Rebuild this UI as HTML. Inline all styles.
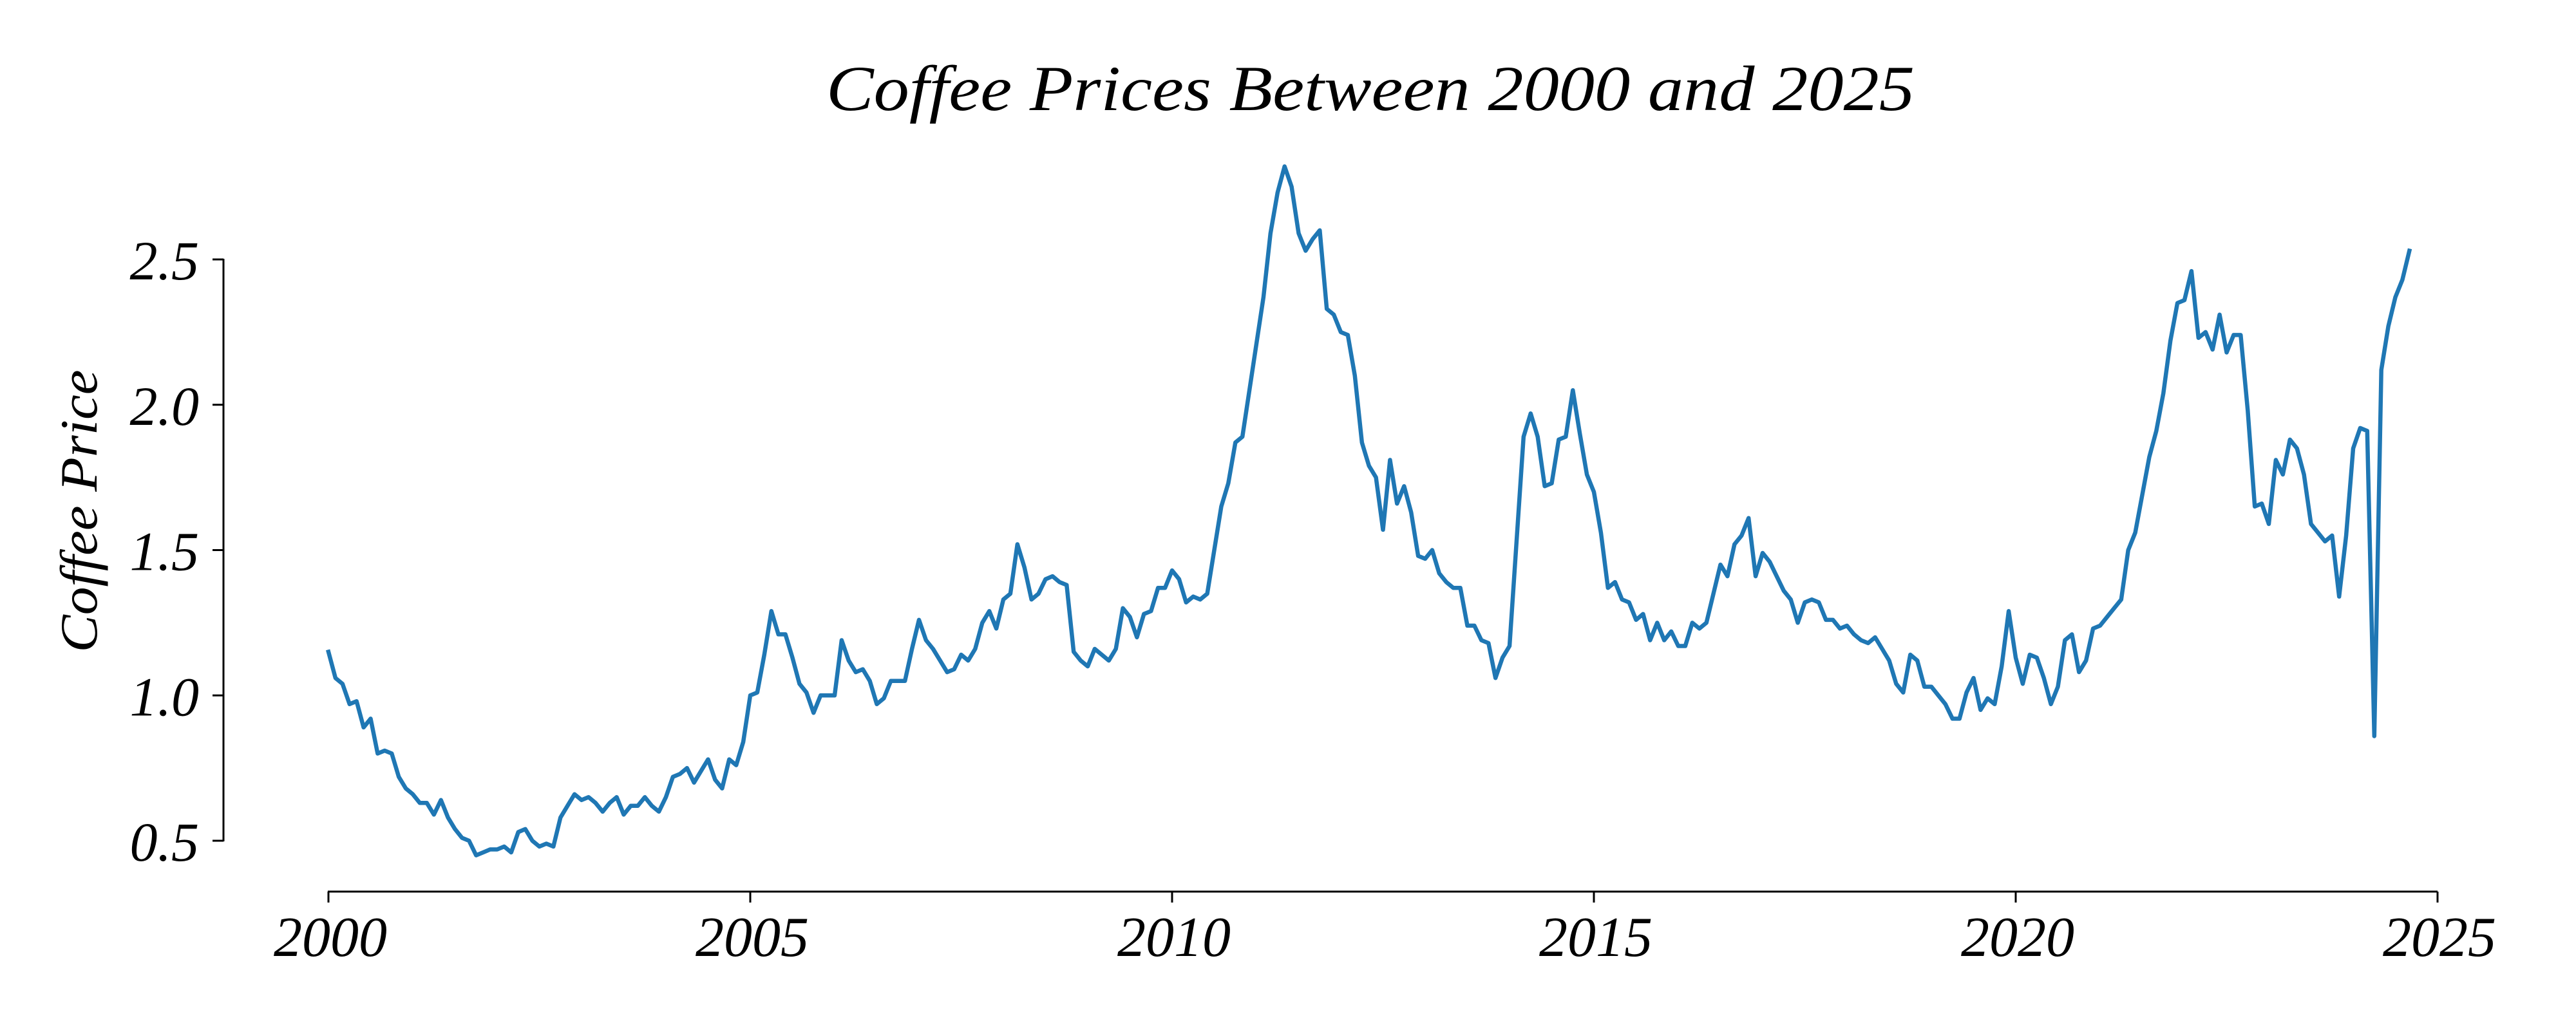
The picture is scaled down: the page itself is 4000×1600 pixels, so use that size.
<!DOCTYPE html>
<html><head><meta charset="utf-8"><style>
html,body{margin:0;padding:0;background:#fff;}
svg{display:block;}
text{font-family:"Liberation Serif",serif;font-style:italic;fill:#000;}
</style></head><body>
<svg id="s" width="4000" height="1600" viewBox="0 0 4000 1600" xmlns="http://www.w3.org/2000/svg">
<rect width="4000" height="1600" fill="#fff"/>
<text x="2128" y="171" font-size="100" text-anchor="middle" textLength="1690" lengthAdjust="spacingAndGlyphs">Coffee Prices Between 2000 and 2025</text>
<text transform="translate(150,794) rotate(-90)" font-size="82" text-anchor="middle" textLength="439" lengthAdjust="spacingAndGlyphs">Coffee Price</text>
<g stroke="#000" stroke-width="3" fill="none">
<line x1="347" y1="402" x2="347" y2="1307"/>
<line x1="509" y1="1385" x2="3785" y2="1385"/>
</g>
<g id="yt"></g>
<g id="xt"></g>
<polyline id="ln" fill="none" stroke="#1f77b4" stroke-width="6.5" stroke-linejoin="round" stroke-linecap="square" points=""/>
</svg>
<script>
var d=[1.15,1.06,1.04,0.97,0.98,0.89,0.92,0.80,0.81,0.80,0.72,0.68,
0.66,0.63,0.63,0.59,0.64,0.58,0.54,0.51,0.50,0.45,0.46,0.47,
0.47,0.48,0.46,0.53,0.54,0.50,0.48,0.49,0.48,0.58,0.62,0.66,
0.64,0.65,0.63,0.60,0.63,0.65,0.59,0.62,0.62,0.65,0.62,0.60,
0.65,0.72,0.73,0.75,0.70,0.74,0.78,0.71,0.68,0.78,0.76,0.84,
1.00,1.01,1.14,1.29,1.21,1.21,1.13,1.04,1.01,0.94,1.00,1.00,
1.00,1.19,1.12,1.08,1.09,1.05,0.97,0.99,1.05,1.05,1.05,1.16,
1.26,1.19,1.16,1.12,1.08,1.09,1.14,1.12,1.16,1.25,1.29,1.23,
1.33,1.35,1.52,1.44,1.33,1.35,1.40,1.41,1.39,1.38,1.15,1.12,
1.10,1.16,1.14,1.12,1.16,1.30,1.27,1.20,1.28,1.29,1.37,1.37,
1.43,1.40,1.32,1.34,1.33,1.35,1.50,1.65,1.73,1.87,1.89,2.05,
2.21,2.37,2.59,2.73,2.82,2.75,2.59,2.53,2.57,2.60,2.33,2.31,
2.25,2.24,2.10,1.87,1.79,1.75,1.57,1.81,1.66,1.72,1.63,1.48,
1.47,1.50,1.42,1.39,1.37,1.37,1.24,1.24,1.19,1.18,1.06,1.13,
1.17,1.53,1.89,1.97,1.89,1.72,1.73,1.88,1.89,2.05,1.90,1.76,
1.70,1.56,1.37,1.39,1.33,1.32,1.26,1.28,1.19,1.25,1.19,1.22,
1.17,1.17,1.25,1.23,1.25,1.35,1.45,1.41,1.52,1.55,1.61,1.41,
1.49,1.46,1.41,1.36,1.33,1.25,1.32,1.33,1.32,1.26,1.26,1.23,
1.24,1.21,1.19,1.18,1.20,1.16,1.12,1.04,1.01,1.14,1.12,1.03,
1.03,1.00,0.97,0.92,0.92,1.01,1.06,0.95,0.99,0.97,1.10,1.29,
1.13,1.04,1.14,1.13,1.06,0.97,1.03,1.19,1.21,1.08,1.12,1.23,
1.24,1.27,1.30,1.33,1.50,1.56,1.69,1.82,1.91,2.04,2.22,2.35,
2.36,2.46,2.23,2.25,2.19,2.31,2.18,2.24,2.24,1.98,1.65,1.66,
1.59,1.81,1.76,1.88,1.85,1.76,1.59,1.56,1.53,1.55,1.34,1.55,
1.85,1.92,1.91,0.86,2.12,2.27,2.37,2.43,2.53];
var pts=[];
for(var i=0;i<d.length;i++){var x=510+(i/12)*131.0;var y=1306-(d[i]-0.5)*451.5;pts.push(x.toFixed(1)+","+y.toFixed(1));}
document.getElementById("ln").setAttribute("points",pts.join(" "));
var NS="http://www.w3.org/2000/svg";
var yt=document.getElementById("yt");
["0.5","1.0","1.5","2.0","2.5"].forEach(function(l,k){
 var y=1306-k*225.75;
 var ln=document.createElementNS(NS,"line");ln.setAttribute("x1",330);ln.setAttribute("x2",347);ln.setAttribute("y1",y);ln.setAttribute("y2",y);ln.setAttribute("stroke","#000");ln.setAttribute("stroke-width",3);yt.appendChild(ln);
 var t=document.createElementNS(NS,"text");t.setAttribute("x",309);t.setAttribute("y",y+31);t.setAttribute("font-size",86);t.setAttribute("text-anchor","end");t.textContent=l;yt.appendChild(t);
});
var xt=document.getElementById("xt");
for(var k=0;k<6;k++){
 var x=510+k*655;
 var ln=document.createElementNS(NS,"line");ln.setAttribute("x1",x);ln.setAttribute("x2",x);ln.setAttribute("y1",1385);ln.setAttribute("y2",1402);ln.setAttribute("stroke","#000");ln.setAttribute("stroke-width",3);xt.appendChild(ln);
 var t=document.createElementNS(NS,"text");t.setAttribute("x",x+3);t.setAttribute("y",1485);t.setAttribute("font-size",88);t.setAttribute("text-anchor","middle");t.textContent=String(2000+5*k);xt.appendChild(t);
}
</script>
</body></html>
